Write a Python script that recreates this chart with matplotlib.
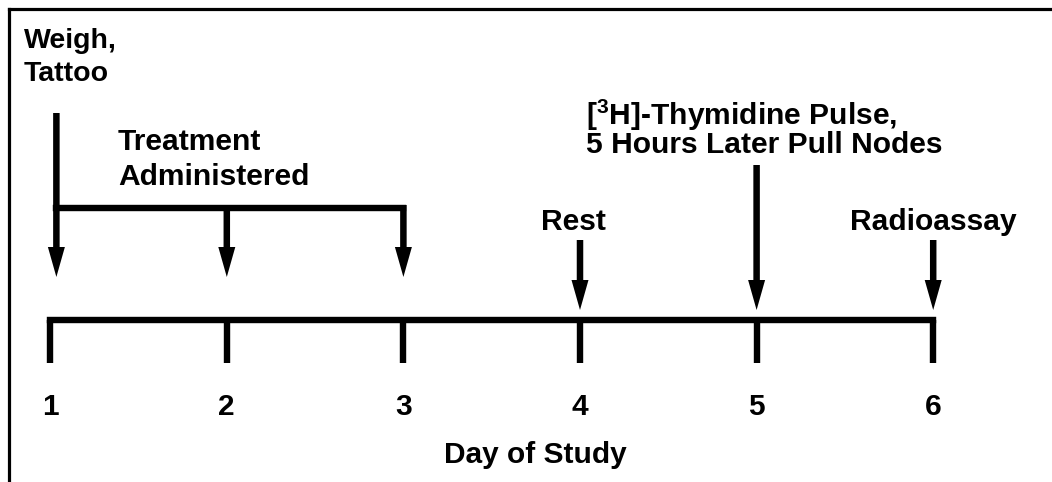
import matplotlib.pyplot as plt
from matplotlib.patches import FancyArrow

plt.rcParams['font.family'] = ['Liberation Sans', 'DejaVu Sans']
plt.rcParams['font.weight'] = 'bold'
plt.rcParams['mathtext.fontset'] = 'custom'
plt.rcParams['mathtext.rm'] = 'Liberation Sans:bold'
plt.rcParams['mathtext.bf'] = 'Liberation Sans:bold'
plt.rcParams['mathtext.default'] = 'rm'

# study schedule
days = [1, 2, 3, 4, 5, 6]
day_labels = ['1', '2', '3', '4', '5', '6']
treatment_days = [1, 2, 3]
start_label = ['Weigh,', 'Tattoo']
treatment_label = ['Treatment', 'Administered']
rest_day, rest_label = 4, 'Rest'
pulse_day = 5
pulse_label = [r'[$^{3}$H]-Thymidine Pulse,', '5 Hours Later Pull Nodes']
assay_day, assay_label = 6, 'Radioassay'
xlabel = 'Day of Study'

W, H = 1052, 482
DAY0, DAYW = -126.4, 176.6          # pixel position of day 0, pixels per day
FS = 21.6                           # label font size


def dx(px):
    return (px - DAY0) / DAYW


fig = plt.figure(figsize=(W / 100, H / 100), dpi=100)
ax = fig.add_axes([0, 0, 1, 1])
ax.set_xlim(dx(0), dx(W))
ax.set_ylim(H, 0)
ax.axis('off')

# frame (top and left only)
ax.plot([dx(9), dx(W + 5)], [9, 9], color='k', lw=2.3, solid_capstyle='projecting')
ax.plot([dx(9), dx(9)], [9, H + 5], color='k', lw=2.3, solid_capstyle='projecting')

LW = 4.6
# timeline and ticks
ax.plot([days[0], days[-1]], [320, 320], color='k', lw=LW, solid_capstyle='projecting')
for d, lab in zip(days, day_labels):
    ax.plot([d, d], [320, 363], color='k', lw=LW, solid_capstyle='butt')
    ax.text(d, 415, lab, ha='center', va='baseline', fontsize=21.5, fontweight='bold')
ax.text(dx(535), 463, xlabel, ha='center', va='baseline', fontsize=21.5, fontweight='bold')


def down_arrow(x, top, tip):
    ax.add_patch(FancyArrow(x, top, 0, tip - top, width=6.5 / DAYW,
                            head_width=17 / DAYW, head_length=30,
                            length_includes_head=True, color='k', lw=0))


# weigh/tattoo and treatment bracket
x1 = treatment_days[0] + 0.035
down_arrow(x1, 113, 277)
ax.plot([x1, treatment_days[-1]], [208, 208], color='k', lw=LW, solid_capstyle='projecting')
for d in treatment_days[1:]:
    down_arrow(d, 205, 277)

for i, line in enumerate(start_label):
    ax.text(dx(24), [48, 81][i], line, ha='left', va='baseline', fontsize=20.5, fontweight='bold')
for i, line in enumerate(treatment_label):
    ax.text(dx(118), [150, 185][i], line, ha='left', va='baseline', fontsize=FS, fontweight='bold')

# later events
down_arrow(rest_day, 240, 310)
ax.text(rest_day - 0.035, 230, rest_label, ha='center', va='baseline', fontsize=FS, fontweight='bold')
down_arrow(pulse_day, 165, 310)
for i, line in enumerate(pulse_label):
    ax.text(dx(586), [125, 153][i], line, ha='left', va='baseline', fontsize=FS, fontweight='bold')
down_arrow(assay_day, 240, 310)
ax.text(assay_day, 230, assay_label, ha='center', va='baseline', fontsize=FS, fontweight='bold')

fig.savefig('out.png', dpi=100, facecolor='white')
